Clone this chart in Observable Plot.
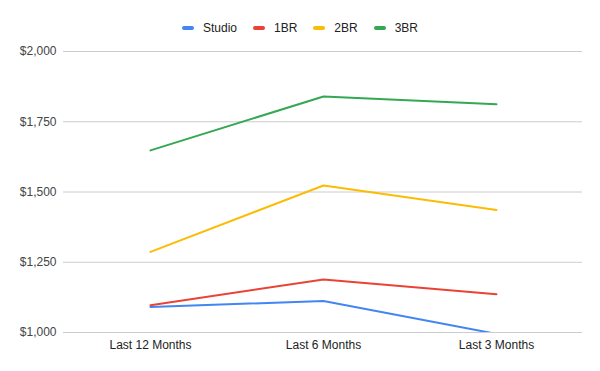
<!DOCTYPE html>
<html><head><meta charset="utf-8">
<script src="https://cdn.jsdelivr.net/npm/d3@7"></script>
<script src="https://cdn.jsdelivr.net/npm/@observablehq/plot@0.6"></script>
<style>
body{margin:0;background:#fff;font-family:"Liberation Sans",Arial,sans-serif;}
#legend{height:40px;box-sizing:border-box;padding-top:16px;display:flex;justify-content:center;align-items:center;font-size:12px;color:#222;line-height:13px;}
.item{display:flex;align-items:center;margin:0 8px;}
.sw{width:12px;height:4px;border-radius:2px;margin-right:9px;}
#chart svg{display:block;}
</style></head><body>
<div id="legend"></div><div id="chart"></div>
<script>
const periods = ["Last 12 Months", "Last 6 Months", "Last 3 Months"];
const seriesNames = ["Studio", "1BR", "2BR", "3BR"];
const studio = [1091, 1112, 995];
const br1 = [1097, 1189, 1136];
const br2 = [1287, 1523, 1436];
const br3 = [1648, 1840, 1812];
const colors = ["#4285F4", "#EA4335", "#FBBC04", "#34A853"];
const yTicks = [1000, 1250, 1500, 1750, 2000];

const seriesValues = [studio, br1, br2, br3];
const data = [];
seriesNames.forEach((s, i) => periods.forEach((p, j) => data.push({series: s, period: p, value: seriesValues[i][j]})));

const legend = document.getElementById("legend");
seriesNames.forEach((s, i) => {
  const it = document.createElement("div"); it.className = "item";
  const sw = document.createElement("div"); sw.className = "sw"; sw.style.background = colors[i];
  const t = document.createElement("span"); t.textContent = s;
  it.appendChild(sw); it.appendChild(t); legend.appendChild(it);
});

const chart = Plot.plot({
  width: 600, height: 331,
  marginTop: 11, marginBottom: 39, marginLeft: 63, marginRight: 18,
  style: {fontSize: "12px", fontFamily: "'Liberation Sans', Arial, sans-serif", color: "#444", background: "#fff"},
  x: {type: "point", domain: periods, padding: 0.5, label: null},
  y: {domain: [1000, 2000], label: null},
  color: {domain: seriesNames, range: colors},
  marks: [
    Plot.gridY(yTicks, {stroke: "#ccc", strokeOpacity: 1}),
    Plot.axisY(yTicks, {tickSize: 0, tickPadding: 7, tickFormat: d => "$" + d3.format(",")(d), label: null, fill: "#444"}),
    Plot.axisX({tickSize: 0, tickPadding: 8, label: null, fill: "#222"}),
    Plot.line(data, {x: "period", y: "value", z: "series", stroke: "series", strokeWidth: 2, clip: true})
  ]
});
document.getElementById("chart").appendChild(chart);
</script>
</body></html>
